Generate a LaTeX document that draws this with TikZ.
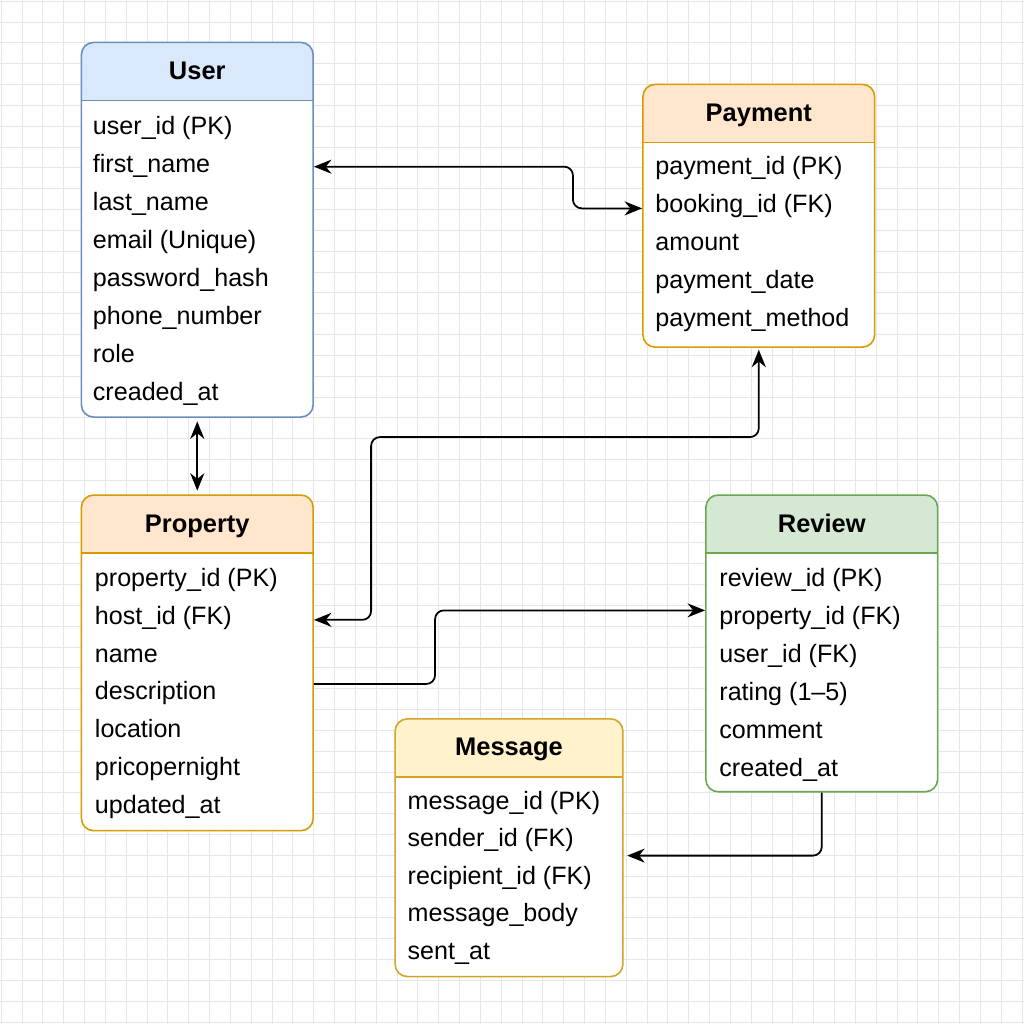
\documentclass[tikz,border=0pt]{standalone}
\usepackage{fontspec}
\setmainfont{Liberation Sans}
\usepackage{tikz}
\usetikzlibrary{arrows.meta, positioning, calc}
\definecolor{userfill}{HTML}{DAE8FC}
\definecolor{userdraw}{HTML}{6C8EBF}
\definecolor{orangefill}{HTML}{FFE6CC}
\definecolor{orangedraw}{HTML}{D79B00}
\definecolor{greenfill}{HTML}{D5E8D4}
\definecolor{greendraw}{HTML}{6AA84F}
\definecolor{yellowfill}{HTML}{FFF2CC}
\definecolor{yellowdraw}{HTML}{D6A22A}
\definecolor{gridgray}{HTML}{E6E6E6}
\newcommand{\rowfont}{\fontsize{14.3}{17}\selectfont}
\newcommand{\hdfont}{\fontsize{14.5}{17}\selectfont\bfseries}
\tikzset{
  tbl/.style 2 args={
    rectangle, rounded corners=7pt, draw=#1, line width=0.9pt, fill=white,
    minimum width=4.64cm, inner sep=0pt,
    path picture={
      \fill[#2, sharp corners] (path picture bounding box.north west)
        rectangle ([yshift=-1.16cm]path picture bounding box.north east);
      \draw[#1, line width=0.9pt, sharp corners]
        ([yshift=-1.16cm]path picture bounding box.north west)
        -- ([yshift=-1.16cm]path picture bounding box.north east);
    }
  },
}
\begin{document}
\begin{tikzpicture}[
  x=0.02cm, y=-0.02cm,
  title/.style={font=\hdfont, inner sep=0pt, text height=1.6ex, text depth=.45ex},
  row/.style={anchor=west, inner sep=0pt, font=\rowfont, text height=1.6ex, text depth=.45ex},
  link/.style={line width=1pt, rounded corners=5pt, draw=black},
  arrow/.style={link, -{Stealth[length=10pt, width=8pt]}},
  biarrow/.style={link, {Stealth[length=10pt, width=8pt]}-{Stealth[length=10pt, width=8pt]}},
  gridline/.style={draw=gridgray, line width=0.5pt}
]

% ---- Background grid ----
\fill[white] (0,0) rectangle (1024,1024);
\foreach \g in {0,...,49} {
  \draw[gridline] (\g*20.85+0.8,0) -- (\g*20.85+0.8,1024);
  \draw[gridline] (0,\g*20.85+0.8) -- (1024,\g*20.85+0.8);
}
\useasboundingbox (0,0) rectangle (1024,1024);

% ---- Tables ----
\node[tbl={userdraw}{userfill}, minimum height=7.5cm] (user) at (197,229.5) {};
\node[tbl={orangedraw}{orangefill}, minimum height=5.26cm] (pay) at (759,215.5) {};
\node[tbl={orangedraw}{orangefill}, minimum height=6.72cm] (prop) at (197,663) {};
\node[tbl={greendraw}{greenfill}, minimum height=5.94cm] (rev) at (822,643.5) {};
\node[tbl={yellowdraw}{yellowfill}, minimum height=5.16cm, minimum width=4.56cm] (msg) at (509,848) {};

% ---- Titles ----
\node[title] (userT) at ($(user.north)+(0,33)$) {User};
\node[title] (payT)  at ($(pay.north)+(0,33)$)  {Payment};
\node[title] (propT) at ($(prop.north)+(0,33)$) {Property};
\node[title] (revT)  at ($(rev.north)+(0,33)$)  {Review};
\node[title] (msgT)  at ($(msg.north)+(0,32)$)  {Message};

% ---- Attributes ----
\foreach \t [count=\i] in {user\_id (PK), first\_name, last\_name, email (Unique),
    password\_hash, phone\_number, role, creaded\_at}
  \node[row] (user-\i) at ($(user.north west)+(12,88+38*\i-38)$) {\t};
\foreach \t [count=\i] in {payment\_id (PK), booking\_id (FK), amount,
    payment\_date, payment\_method}
  \node[row] (pay-\i) at ($(pay.north west)+(13,86+38*\i-38)$) {\t};
\foreach \t [count=\i] in {property\_id (PK), host\_id (FK), name, description,
    location, pricopernight, updated\_at}
  \node[row] (prop-\i) at ($(prop.north west)+(14,87+37.8*\i-37.8)$) {\t};
\foreach \t [count=\i] in {review\_id (PK), property\_id (FK), user\_id (FK),
    rating (1--5), comment, created\_at}
  \node[row] (rev-\i) at ($(rev.north west)+(14,87+38*\i-38)$) {\t};
\foreach \t [count=\i] in {message\_id (PK), sender\_id (FK), recipient\_id (FK),
    message\_body, sent\_at}
  \node[row] (msg-\i) at ($(msg.north west)+(13,86+37.5*\i-37.5)$) {\t};

% ---- Relations ----
\coordinate (bendA) at (573,186);
\coordinate (bendB) at (371,437);
\coordinate (bendC) at (435,650);
\draw[biarrow] ([yshift=0.5pt]user.east |- user-2) -| (bendA) |- ([yshift=-0.5pt]pay.west |- pay-2);
\draw[biarrow, shorten <=2pt, shorten >=2pt] (user.south) -- (prop.north);
\draw[biarrow] ([yshift=-0.5pt]prop.east |- prop-2) -| (bendB) -| ([yshift=-1pt]pay.south);
\draw[arrow] ([yshift=6pt]prop.east |- prop-4) -| (bendC) |- ([yshift=5pt]rev.west |- rev-2);
\draw[arrow] (rev.south) |- ([xshift=2pt, yshift=-4.5pt]msg.east);

\end{tikzpicture}
\end{document}
